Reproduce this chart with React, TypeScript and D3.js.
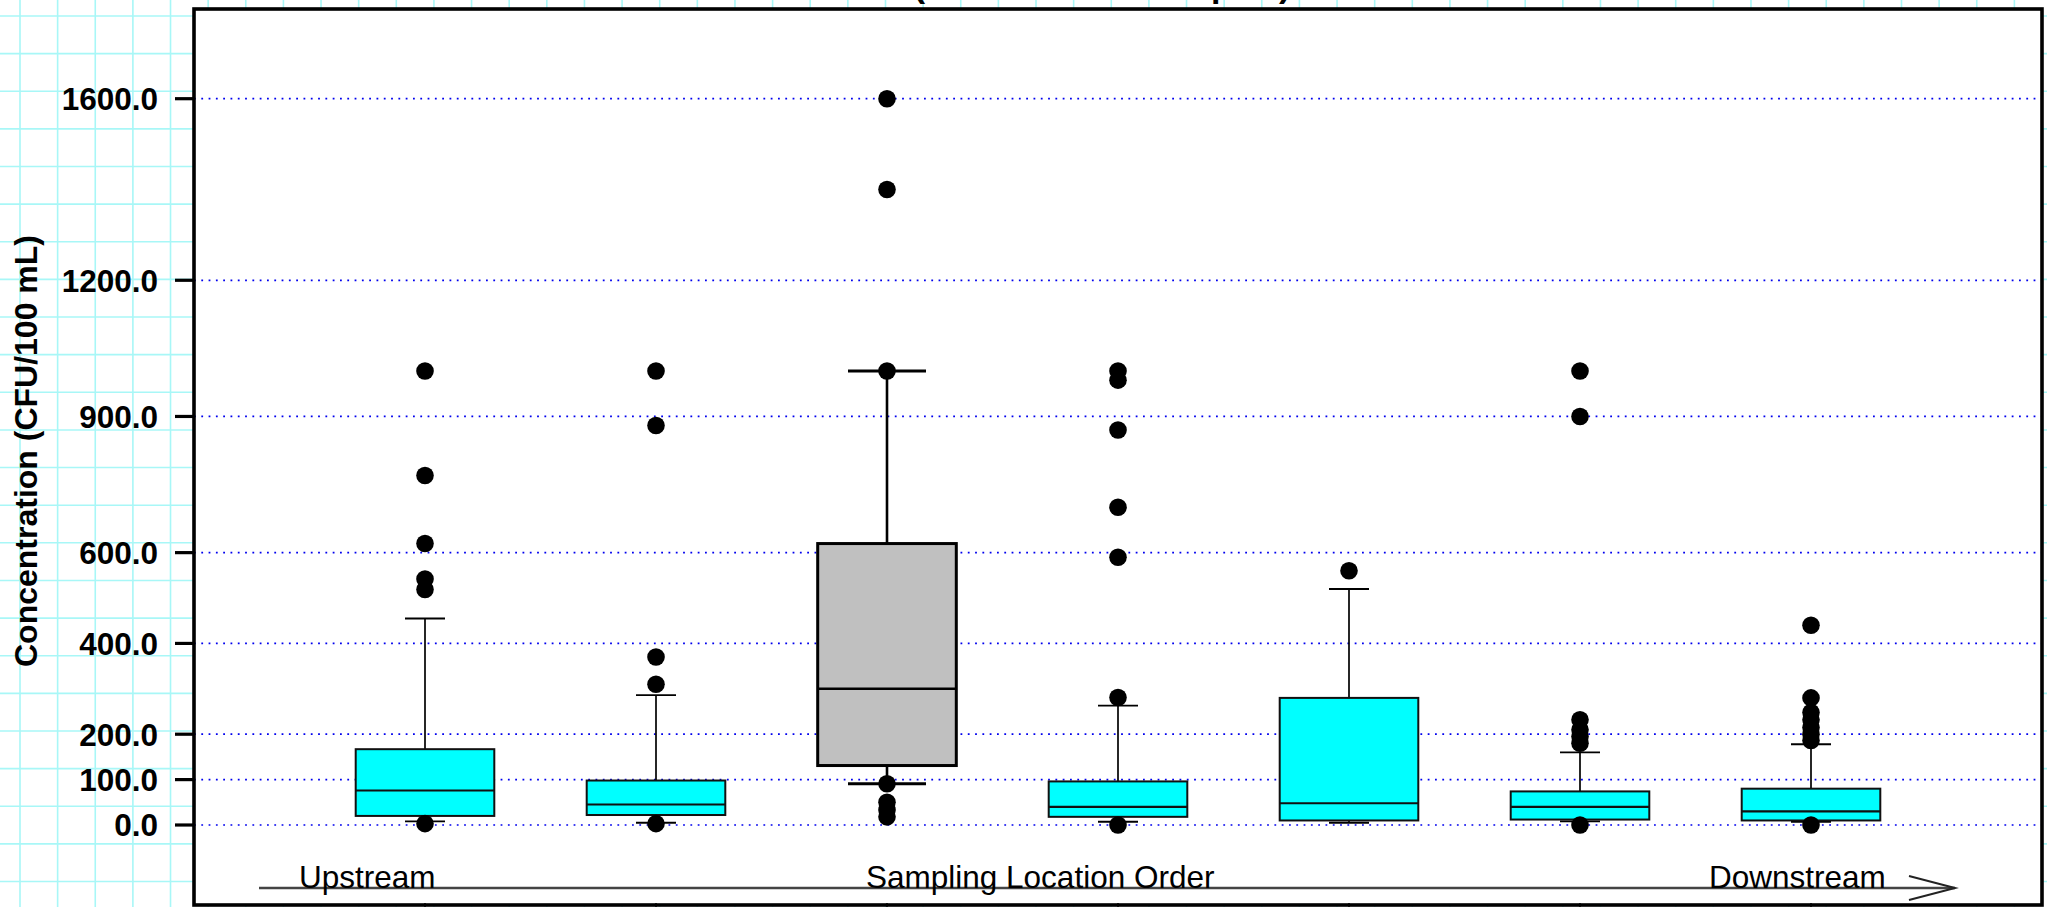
import React from "react";
import * as d3 from "d3";

// ---- data ----
const locations = [1, 2, 3, 4, 5, 6, 7];
const whiskerLow = [8, 5, 91, 7, 5, 8, 7];
const q1 = [20, 22, 131, 18, 10, 12, 10];
const medians = [76, 45, 300, 40, 48, 40, 30];
const q3 = [167, 98, 620, 96, 280, 74, 80];
const whiskerHigh = [455, 286, 1000, 263, 520, 160, 178];
const outliersLoc1 = [1000, 770, 620, 542, 519, 3];
const outliersLoc2 = [1000, 880, 370, 310, 3];
const outliersLoc3 = [1600, 1400, 1000, 91, 50, 33, 18];
const outliersLoc4 = [1000, 980, 870, 700, 590, 281, 0];
const outliersLoc5 = [560];
const outliersLoc6 = [1000, 900, 232, 210, 195, 180, 0];
const outliersLoc7 = [440, 280, 248, 232, 215, 200, 186, 0];
const outliers = [outliersLoc1, outliersLoc2, outliersLoc3, outliersLoc4, outliersLoc5, outliersLoc6, outliersLoc7];
const yTicks = [0, 100, 200, 400, 600, 900, 1200, 1600];
const axisWords = ["Upstream", "Sampling Location Order", "Downstream"];
const yTitle = "Concentration (CFU/100 mL)";
const chartTitle = "(Wet Weather Samples)";

const W = 2047;
const H = 907;
const PL = 194, PR = 2042, PT = 9, PB = 905;
const FONT = "'Liberation Sans', Arial, Helvetica, sans-serif";

export default function App() {
  const x = d3.scaleLinear().domain([0, 8]).range([PL, PR]);
  const y = d3.scaleLinear().domain([0, 1600]).range([825, 98.7]);
  const step = x(1) - x(0);
  const boxW = step * 0.6;

  const gridX = d3.range(20, W, 37.63);
  const gridY = d3.range(16, H, 37.63);

  return (
    <svg width={W} height={H} style={{ position: "fixed", left: 0, top: 0, background: "#fff" }}
      fontFamily={FONT}>
      {/* graph-paper background */}
      <rect x={0} y={0} width={W} height={H} fill="#fff" />
      {gridX.map((gx, i) => (
        <line key={"gx" + i} x1={gx} x2={gx} y1={0} y2={H} stroke="#a8f7f7" strokeWidth={1.6} />
      ))}
      {gridY.map((gy, i) => (
        <line key={"gy" + i} x1={0} x2={W} y1={gy} y2={gy} stroke="#a8f7f7" strokeWidth={1.6} />
      ))}

      {/* title (mostly cut off at top, as in the source) */}
      <text x={1102} y={-3} textAnchor="middle" fontSize={34} fontWeight="bold" fill="#000">{chartTitle}</text>

      {/* plot area */}
      <rect x={PL} y={PT} width={PR - PL} height={PB - PT} fill="#fff" />

      {/* dotted gridlines */}
      {yTicks.map((t) => (
        <line key={"g" + t} x1={PL} x2={PR} y1={y(t)} y2={y(t)} stroke="#0000ee" strokeWidth={1.7}
          strokeDasharray="1.8,5.5" />
      ))}

      {/* boxes */}
      {locations.map((loc, i) => {
        const cx = x(loc);
        const hl = i === 2;
        const sw = hl ? 3 : 2;
        const capW = hl ? 78 : 40;
        const fill = hl ? "#c0c0c0" : "#00ffff";
        const stroke = hl ? "#000" : "#111";
        return (
          <g key={"b" + loc}>
            <line x1={cx} x2={cx} y1={y(whiskerHigh[i])} y2={y(q3[i])} stroke="#000" strokeWidth={hl ? 2.6 : 1.7} />
            <line x1={cx} x2={cx} y1={y(whiskerLow[i])} y2={y(q1[i])} stroke="#000" strokeWidth={hl ? 2.6 : 1.7} />
            <line x1={cx - capW / 2} x2={cx + capW / 2} y1={y(whiskerHigh[i])} y2={y(whiskerHigh[i])} stroke="#000" strokeWidth={hl ? 3 : 1.9} />
            <line x1={cx - capW / 2} x2={cx + capW / 2} y1={y(whiskerLow[i])} y2={y(whiskerLow[i])} stroke="#000" strokeWidth={hl ? 3 : 1.9} />
            <rect x={cx - boxW / 2} y={y(q3[i])} width={boxW} height={y(q1[i]) - y(q3[i])}
              fill={fill} stroke={stroke} strokeWidth={sw} />
            <line x1={cx - boxW / 2} x2={cx + boxW / 2} y1={y(medians[i])} y2={y(medians[i])} stroke={stroke} strokeWidth={hl ? 2.4 : 2.1} />
          </g>
        );
      })}

      {/* outliers */}
      {locations.map((loc, i) =>
        outliers[i].map((v, j) => (
          <circle key={"o" + loc + "_" + j} cx={x(loc)} cy={y(v)} r={8.8} fill="#000" />
        ))
      )}

      {/* plot border */}
      <rect x={PL} y={PT} width={PR - PL} height={PB - PT} fill="none" stroke="#000" strokeWidth={3.6} />

      {/* y axis ticks and labels */}
      {yTicks.map((t) => (
        <g key={"t" + t}>
          <line x1={PL - 19} x2={PL} y1={y(t)} y2={y(t)} stroke="#000" strokeWidth={3.2} />
          <text x={158} y={y(t)} dy="0.36em" textAnchor="end" fontSize={31.5} fontWeight="bold" fill="#000">
            {t.toFixed(1)}
          </text>
        </g>
      ))}

      {/* x axis small ticks */}
      {locations.map((loc) => (
        <line key={"xt" + loc} x1={x(loc)} x2={x(loc)} y1={PB - 2} y2={PB + 6} stroke="#000" strokeWidth={1.5} />
      ))}

      {/* y title */}
      <text transform={`translate(37, 451) rotate(-90)`} textAnchor="middle" fontSize={32} fontWeight="bold" fill="#000">
        {yTitle}
      </text>

      {/* flow direction arrow */}
      <line x1={259} x2={1955} y1={888} y2={888} stroke="#444" strokeWidth={2.6} />
      <polyline points="1909,876 1955,888 1909,900" fill="none" stroke="#222" strokeWidth={2} />
      <text x={299} y={888} fontSize={31.5} fill="#000">{axisWords[0]}</text>
      <text x={866} y={888} fontSize={31.5} fill="#000">{axisWords[1]}</text>
      <text x={1709} y={888} fontSize={31.5} fill="#000">{axisWords[2]}</text>
    </svg>
  );
}
